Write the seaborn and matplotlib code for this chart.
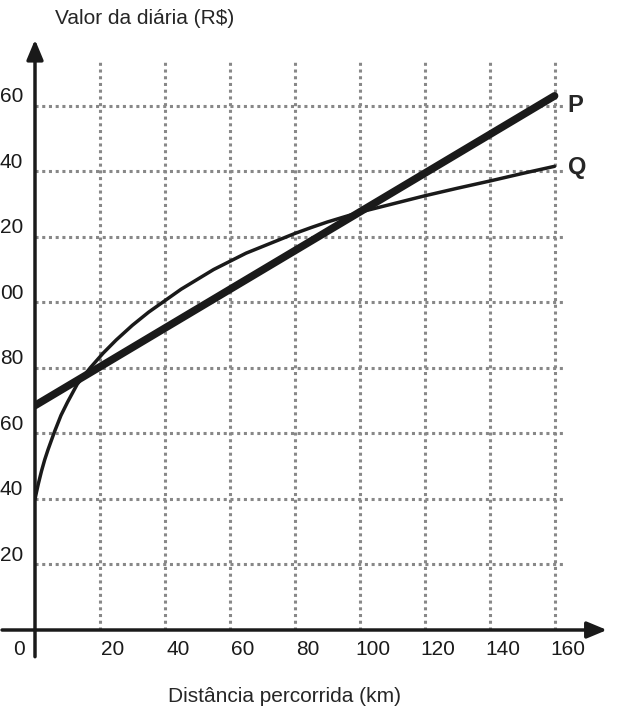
import matplotlib
matplotlib.use("Agg")
import matplotlib.pyplot as plt
import seaborn as sns
import pandas as pd

x_ticks = [20, 40, 60, 80, 100, 120, 140, 160]
x_labels = ["20", "40", "60", "80", "100", "120", "140", "160"]
y_ticks = [20, 40, 60, 80, 100, 120, 140, 160]
y_labels = ["20", "40", "60", "80", "00", "20", "40", "60"]

p_x = [0, 160]
p_y = [68.5, 163]
q_x = [0, 1, 2, 3, 4, 6, 8, 10, 13, 17, 21, 25, 30, 35, 40, 45, 50, 55, 60, 65, 70, 75, 80, 85, 90, 95, 100, 110, 120, 130, 140, 150, 160]
q_y = [40, 44.5, 48.5, 52, 55, 60.5, 65.5, 69.5, 75, 80, 84.5, 88.5, 93, 97, 100.5, 104, 107, 110, 112.5, 115, 117, 119, 121, 122.8, 124.5, 126, 127.5, 130, 132.5, 134.8, 137, 139.3, 141.5]

sns.set_style("white")
plt.rcParams['font.family'] = ['Liberation Sans', 'DejaVu Sans']

fig = plt.figure(figsize=(6.2, 7.17), dpi=100)
ax = fig.add_axes([35/620, 1-630/717, 565/620, 580/717])
ax.set_xlim(0, 174)
ax.set_ylim(0, 177)
for s in ax.spines.values():
    s.set_visible(False)
ax.set_xticks([]); ax.set_yticks([])

for xv in x_ticks:
    ax.plot([xv, xv], [0, 174], color="#888888", lw=2.2, ls=(0, (1, 1.2)), zorder=1)
for yv in y_ticks:
    ax.plot([0, 163], [yv, yv], color="#888888", lw=2.2, ls=(0, (1, 1.2)), zorder=1)

sns.lineplot(x=q_x, y=q_y, ax=ax, color="#1a1a1a", lw=2.5, zorder=3)
sns.lineplot(x=p_x, y=p_y, ax=ax, color="#1a1a1a", lw=5.5, zorder=4)

ax.annotate("", xy=(177, 0), xytext=(-11, 0), xycoords="data", textcoords="data",
            arrowprops=dict(arrowstyle="-|>,head_length=1.2,head_width=0.5", color="#1a1a1a", lw=2.5),
            annotation_clip=False)
ax.annotate("", xy=(0, 181), xytext=(0, -9), xycoords="data", textcoords="data",
            arrowprops=dict(arrowstyle="-|>,head_length=1.2,head_width=0.5", color="#1a1a1a", lw=2.5),
            annotation_clip=False)

for xv, lab in zip(x_ticks, x_labels):
    ax.text(xv + 4, -3, lab, ha="center", va="top", fontsize=15, color="#1a1a1a", clip_on=False)
ax.text(-5, -3, "0", ha="center", va="top", fontsize=15, color="#1a1a1a", clip_on=False)
for yv, lab in zip(y_ticks, y_labels):
    fig.text(0.0, 1-(630-yv*3.277-9)/717, lab, ha="left", va="center", fontsize=15, color="#1a1a1a")

ax.text(164, 160, "P", fontsize=17, fontweight="bold", ha="left", va="center", clip_on=False)
ax.text(164, 141, "Q", fontsize=17, fontweight="bold", ha="left", va="center", clip_on=False)

fig.text(55/620, 1-18/717, "Valor da diária (R$)", fontsize=15, ha="left", va="center")
fig.text(285/620, 1-697/717, "Distância percorrida (km)", fontsize=15, ha="center", va="center")

fig.savefig("out.png", dpi=100)
